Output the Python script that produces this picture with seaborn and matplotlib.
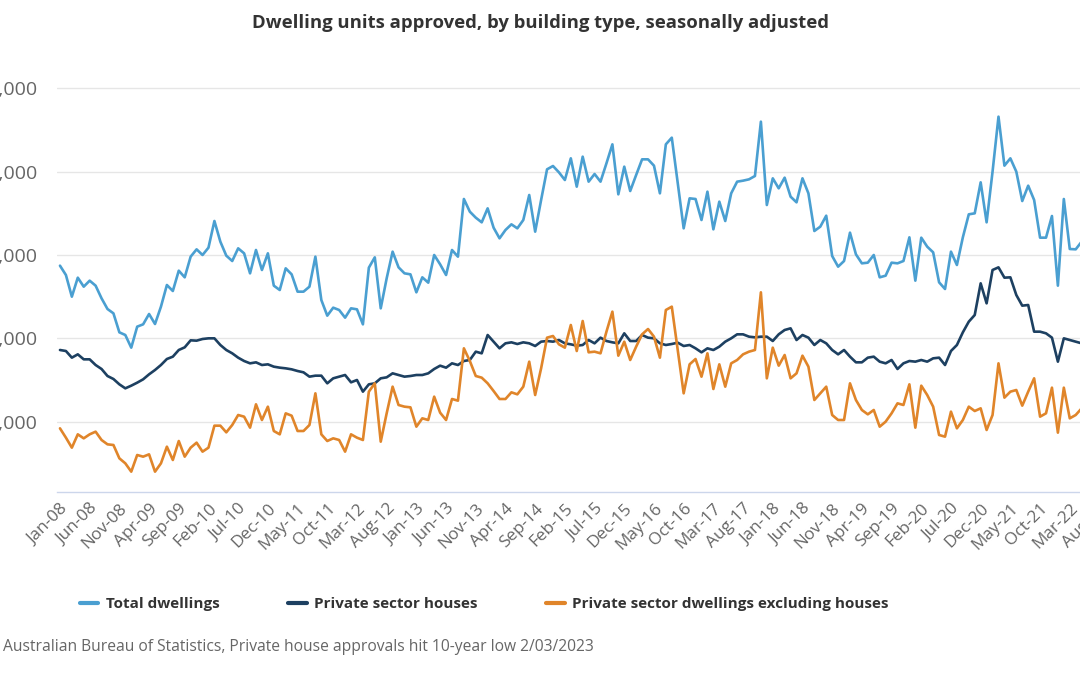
import matplotlib
matplotlib.use("Agg")
import matplotlib.pyplot as plt
import matplotlib.ticker as mticker
from matplotlib.lines import Line2D
import numpy as np
import pandas as pd
import seaborn as sns

# ---------------- data ----------------
months = pd.date_range("2008-01-01", periods=173, freq="MS")
month_labels = [d.strftime("%b-%y") for d in months]

total_dwellings = [
    14360, 13800, 12500, 13640, 13100, 13460, 13160, 12400, 11760, 11500,
    10360, 10200, 9440, 10700, 10840, 11460, 10860, 11900, 13200, 12840,
    14060, 13660, 14900, 15340, 15000, 15440, 17040, 15800, 14960, 14640,
    15400, 15100, 13900, 15300, 14100, 15100, 13160, 12900, 14200, 13840,
    12800, 12800, 13100, 14900, 12300, 11360, 11840, 11700, 11240, 11800,
    11740, 10840, 14240, 14860, 11800, 13600, 15200, 14260, 13900, 13840,
    12760, 13660, 13340, 15000, 14440, 13800, 15300, 14900, 18360, 17600,
    17240, 16960, 17800, 16640, 16000, 16500, 16840, 16600, 17100, 18600,
    16400, 18300, 20140, 20340, 19960, 19500, 20800, 19100, 20900, 19400,
    19860, 19400, 20500, 21640, 18640, 20300, 18840, 19800, 20740, 20740,
    20360, 18700, 21640, 22040, 19300, 16600, 18400, 18360, 17100, 18800,
    16540, 18200, 17040, 18700, 19400, 19460, 19540, 19740, 23000, 18000,
    19600, 19000, 19640, 18500, 18160, 19600, 18700, 16440, 16700, 17360,
    14940, 14300, 14640, 16340, 15040, 14500, 14540, 15000, 13660, 13760,
    14540, 14500, 14640, 16060, 13460, 16040, 15500, 15160, 13360, 12960,
    15200, 14400, 16060, 17440, 17500, 19360, 16960, 20000, 23300, 20360,
    20800, 20000, 18240, 19160, 18300, 16040, 16040, 17340, 13160, 18360,
    15360, 15340, 15800,
]

private_houses = [
    9300, 9240, 8840, 9040, 8740, 8740, 8400, 8160, 7740, 7560,
    7240, 7000, 7160, 7340, 7540, 7840, 8100, 8400, 8760, 8900,
    9300, 9460, 9880, 9860, 9960, 10000, 10000, 9600, 9300, 9100,
    8840, 8640, 8500, 8560, 8400, 8440, 8300, 8240, 8200, 8140,
    8040, 7960, 7700, 7760, 7760, 7300, 7600, 7700, 7800, 7360,
    7500, 6800, 7240, 7300, 7600, 7660, 7900, 7800, 7700, 7740,
    7800, 7800, 7900, 8160, 8360, 8240, 8500, 8400, 8640, 8700,
    9200, 9100, 10200, 9800, 9400, 9700, 9760, 9660, 9760, 9700,
    9540, 9800, 9840, 9800, 9900, 9700, 9640, 9560, 9600, 9900,
    9700, 10040, 9840, 9760, 9700, 10300, 9840, 9840, 10200, 10040,
    10000, 9700, 9600, 9660, 9740, 9540, 9600, 9400, 9160, 9400,
    9300, 9500, 9800, 10000, 10240, 10240, 10100, 10060, 10100, 10100,
    9840, 10240, 10500, 10600, 9900, 10200, 10040, 9600, 9900, 9700,
    9300, 9040, 9300, 8900, 8560, 8560, 8840, 8900, 8600, 8500,
    8700, 8160, 8500, 8640, 8600, 8700, 8600, 8800, 8840, 8400,
    9240, 9600, 10360, 11000, 11400, 13300, 12100, 14100, 14260, 13640,
    13660, 12600, 11960, 12000, 10400, 10400, 10300, 10040, 8600, 10000,
    9900, 9800, 9700,
]

private_other = [
    4600, 4040, 3440, 4240, 4000, 4240, 4400, 3900, 3640, 3600,
    2800, 2500, 2000, 3000, 2900, 3040, 2000, 2500, 3500, 2700,
    3840, 2900, 3440, 3740, 3200, 3440, 4760, 4760, 4360, 4800,
    5400, 5300, 4640, 6040, 5100, 5900, 4440, 4240, 5500, 5360,
    4440, 4440, 4800, 6700, 4240, 3840, 4000, 3900, 3200, 4240,
    4040, 3900, 6800, 7300, 3800, 5500, 7100, 6000, 5900, 5860,
    4700, 5200, 5100, 6500, 5540, 5100, 6360, 6260, 9400, 8640,
    7740, 7640, 7300, 6840, 6360, 6360, 6760, 6640, 7100, 8600,
    6600, 8200, 10040, 10140, 9640, 9440, 10800, 9240, 11040, 9160,
    9200, 9100, 10400, 11600, 8960, 9800, 8700, 9500, 10240, 10560,
    10100, 8840, 11700, 11900, 9300, 6700, 8440, 8760, 7700, 9100,
    6960, 8440, 7100, 8500, 8700, 9040, 9200, 9300, 12760, 7600,
    9440, 8360, 9000, 7600, 7900, 8960, 8300, 6300, 6700, 7100,
    5400, 5100, 5100, 7300, 6300, 5700, 5440, 5700, 4700, 5000,
    5500, 6100, 6000, 7240, 4640, 7160, 6600, 5900, 4200, 4100,
    5600, 4600, 5100, 5900, 5640, 5800, 4500, 5400, 8500, 6440,
    6800, 6900, 5960, 6800, 7600, 5300, 5500, 7040, 4340, 7040,
    5200, 5400, 5800,
]

series_names = ["Total dwellings", "Private sector houses",
                "Private sector dwellings excluding houses"]
series_colors = ["#4a9fd1", "#1d4061", "#e0852a"]
y_ticks = [5000, 10000, 15000, 20000, 25000]
x_tick_step = 5
extra_tick_labels = ["Jun-22", "Jul-22", "Aug-22"]

title_text = "Dwelling units approved, by building type, seasonally adjusted"
source_text = "Australian Bureau of Statistics, Private house approvals hit 10-year low 2/03/2023"

# ---------------- frame ----------------
idx = np.arange(len(months))
df = pd.concat([
    pd.DataFrame({"m": idx, "value": vals, "series": name})
    for name, vals in zip(series_names, [total_dwellings, private_houses, private_other])
], ignore_index=True)

sns.set_theme(style="white")
plt.rcParams["font.family"] = ["Open Sans", "DejaVu Sans"]

W, H = 1080, 675
fig = plt.figure(figsize=(W / 100, H / 100), dpi=100)

px_per_month = 5.94
x_left_px = 57
n_span = 181  # -0.5 .. 180.5
top_px, bot_px = 87.0, 492.3
ax = fig.add_axes([x_left_px / W, 1 - bot_px / H,
                   n_span * px_per_month / W, (bot_px - top_px) / H])

sns.lineplot(data=df, x="m", y="value", hue="series", hue_order=series_names,
             palette=series_colors, linewidth=1.9, ax=ax, legend=False,
             sort=False, estimator=None)

ax.set_xlim(-0.5, 180.5)
ax.set_ylim(762, 25080)
ax.set_xlabel("")
ax.set_ylabel("")

ax.set_yticks(y_ticks)
ax.yaxis.set_major_formatter(mticker.FuncFormatter(lambda v, p: f"{int(v):,}"))
ax.grid(axis="y", color="#e6e6e6", linewidth=1.0)
ax.grid(axis="x", visible=False)
ax.set_axisbelow(True)

xt = list(range(0, 176, x_tick_step))
all_labels = month_labels + extra_tick_labels
ax.set_xticks(xt)
ax.set_xticklabels([all_labels[i] for i in xt], rotation=45, ha="right",
                   rotation_mode="anchor", fontsize=12.3, color="#666666")
ax.tick_params(axis="x", length=0, pad=6)
ax.tick_params(axis="y", length=0, pad=14, labelsize=14, labelcolor="#666666")

for s in ["top", "right", "left"]:
    ax.spines[s].set_visible(False)
ax.spines["bottom"].set_color("#ccd6eb")
ax.spines["bottom"].set_linewidth(1.0)

fig.text(0.5, 1 - 23 / H, title_text, ha="center", va="center",
         fontsize=13.3, fontweight="bold", color="#333333")

handles = [Line2D([0], [0], color=c, linewidth=3) for c in series_colors]
leg = fig.legend(handles, series_names, loc="center left",
                 bbox_to_anchor=(66 / W, 1 - 604 / H), ncol=3, frameon=False,
                 handlelength=1.2, handletextpad=0.5, columnspacing=4.5,
                 prop={"weight": "bold", "size": 11})
for t in leg.get_texts():
    t.set_color("#333333")

fig.text(3 / W, 1 - 647 / H, source_text, ha="left", va="center",
         fontsize=11.25, color="#666666")

fig.savefig("out.png", dpi=100)
